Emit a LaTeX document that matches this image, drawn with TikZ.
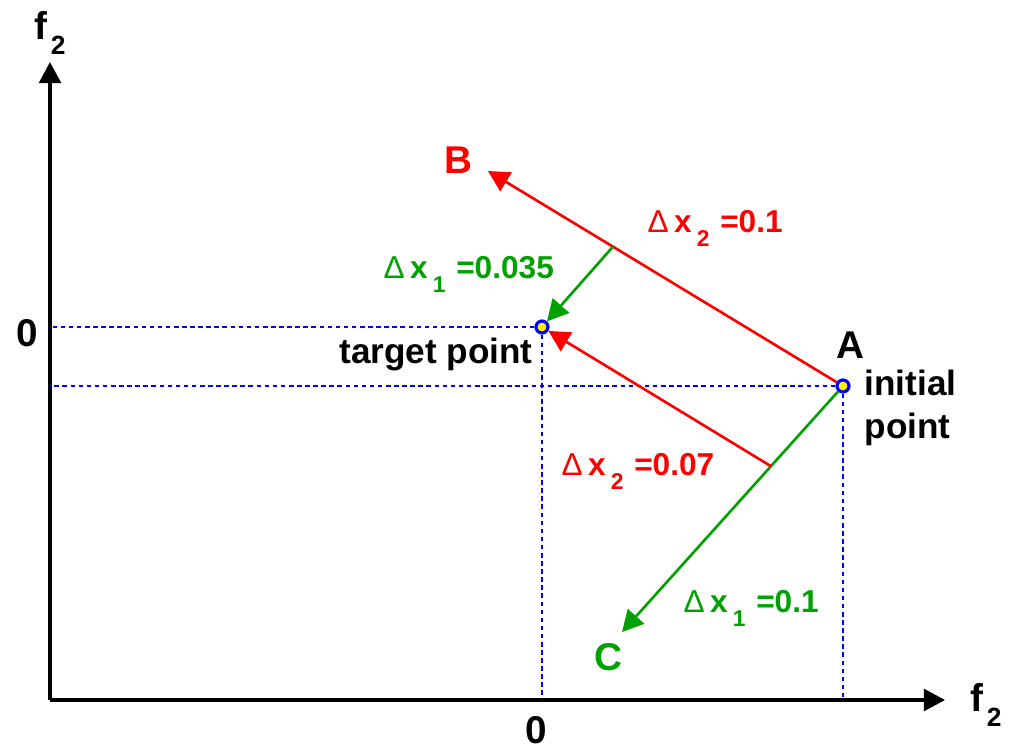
\documentclass[tikz,border=0pt]{standalone}
\usepackage{fontspec}
\setmainfont{Liberation Sans}
\usetikzlibrary{arrows.meta,calc}
\newcommand{\fsub}{f\hspace{1pt}\raisebox{-4.3pt}{\fontsize{7.5}{8}\selectfont 2}}
\newcommand{\dxlab}[2]{{\mdseries Δ}\hspace{1.5pt}x\hspace{1.5pt}\raisebox{-4pt}{\fontsize{6.5}{7}\selectfont #1}\hspace{3pt}=#2}
\begin{document}
\begin{tikzpicture}[x=0.01cm,y=-0.01cm,
    every node/.style={font=\bfseries\fontsize{10}{12}\selectfont,inner sep=0pt},
    big/.style={font=\bfseries\fontsize{11}{13}\selectfont},
    small/.style={font=\bfseries\fontsize{9}{11}\selectfont,anchor=base west},
    guide/.style={blue,line width=.8pt,dash pattern=on 1.3pt off 1pt},
    pt/.style={circle,draw=blue,fill=yellow,line width=.9pt,minimum size=.12cm},
    move/.style={line width=.75pt,-{Triangle[length=6pt,width=6.2pt]}}]
    \useasboundingbox (0,0) rectangle (1011,748);
    % axes
    \coordinate (O) at (50,700);
    \coordinate (ytip) at (50,62);
    \coordinate (xtip) at (945,700);
    \draw[line width=.9pt,-{Triangle[length=6pt,width=6.2pt]}] (O) -- (ytip);
    \draw[line width=.9pt,-{Triangle[length=6pt,width=6.2pt]}] (O) -- (xtip);
    \node[big] (fy) at (50,33) {\fsub};
    \node[big] (fx) at (986,705) {\fsub};
    % points
    \node[pt] (T) at (542,327) {};
    \node[pt] (A) at (843,386) {};
    \coordinate (B) at (488,171);
    \coordinate (C) at (622,632);
    \coordinate (M1) at ($(A)!.648!(B)$);
    \coordinate (M2) at ($(A)!.326!(C)$);
    % projections
    \draw[guide] (T) -- (O |- T);
    \draw[guide] (T) -- (T |- O);
    \draw[guide] (A) -- (O |- A);
    \draw[guide] (A) -- (A |- O);
    \node[big] (zy) at (27,333) {0};
    \node[big] (zx) at (536,730) {0};
    % moves
    \draw[move,red] (A) -- (B);
    \draw[move,green!63!black] (A) -- (C);
    \draw[move,green!63!black] (M1) -- (T);
    \draw[move,red] (M2) -- (T);
    \node[big,text=red] (labB) at (458,160) {B};
    \node[big,text=green!63!black] (labC) at (608,657) {C};
    \node[big] (labA) at (850,345) {A};
    \node[anchor=west,align=left] (init) at (864,408) {initial\\point};
    \node (targ) at (436,354) {target point};
    \node[small,text=red] (d1) at (647,232) {\dxlab{2}{0.1}};
    \node[small,text=green!63!black] (d2) at (383,278) {\dxlab{1}{0.035}};
    \node[small,text=red] (d3) at (561,475) {\dxlab{2}{0.07}};
    \node[small,text=green!63!black] (d4) at (683,612) {\dxlab{1}{0.1}};
\end{tikzpicture}
\end{document}
